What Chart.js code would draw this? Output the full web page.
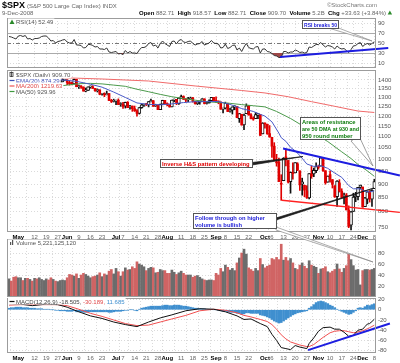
<!DOCTYPE html>
<html>
<head>
<meta charset="utf-8">
<title>$SPX daily</title>
<script src="https://cdn.jsdelivr.net/npm/chart.js@4.4.1/dist/chart.umd.min.js"></script>
<style>
  html, body { margin: 0; padding: 0; background: #fff; }
  #page { position: relative; width: 400px; height: 363px; overflow: hidden; background: #fff; }
  #page canvas { position: absolute; left: 0; top: 0; }
</style>
</head>
<body>
<div id="page">
  <canvas id="rsi" width="400" height="363"></canvas>
  <canvas id="vol" width="400" height="363"></canvas>
  <canvas id="macd" width="400" height="363"></canvas>
  <canvas id="price" width="400" height="363"></canvas>
</div>
<script>
(function() {
	"use strict";

	// trading days, index 0 = 25 Apr 2008 ... index 157 = 8 Dec 2008
	var tickIdx = [4, 11, 16, 21, 25, 30, 35, 40, 46, 49, 54, 59, 64, 68, 74, 79, 84, 89, 93, 98, 103, 110, 113, 118, 123, 128, 133, 138, 143, 148, 152, 157];
	var tickText = ["May", "12", "19", "27", "Jun", "9", "16", "23", "Jul", "7", "14", "21", "28", "Aug", "11", "18", "25", "Sep", "8", "15", "22", "Oct", "6", "13", "20", "27", "Nov", "10", "17", "24", "Dec", "8"];

	var open = [1388.8, 1397.8, 1396.4, 1390.9, 1385.6, 1409.3, 1413.9, 1407.5, 1418.3, 1392.6, 1397.7, 1388.3, 1403.6, 1403.0, 1408.7, 1423.6, 1425.4, 1426.6, 1413.4, 1390.7,
		1394.4, 1375.9, 1385.4, 1390.8, 1398.3, 1400.4, 1385.7, 1377.7, 1377.2, 1404.1, 1360.7, 1361.8, 1358.4, 1335.5, 1339.9, 1360.0, 1360.1, 1350.9, 1337.8, 1342.8,
		1317.9, 1318.0, 1314.3, 1322.0, 1283.2, 1278.4, 1280.0, 1284.9, 1261.5, 1262.9, 1252.3, 1273.7, 1244.7, 1253.4, 1239.5, 1228.3, 1214.9, 1245.4, 1260.3, 1260.7,
		1260.0, 1277.0, 1282.2, 1252.5, 1257.8, 1234.4, 1263.2, 1284.3, 1267.4, 1260.3, 1249.0, 1284.9, 1289.2, 1266.1, 1296.3, 1305.3, 1289.6, 1285.8, 1292.9, 1298.2,
		1278.6, 1266.7, 1274.5, 1277.7, 1292.2, 1266.8, 1271.5, 1281.7, 1300.7, 1282.8, 1277.6, 1275.0, 1236.8, 1242.3, 1267.8, 1224.5, 1232.0, 1249.1, 1250.9, 1188.3,
		1210.3, 1157.1, 1213.1, 1255.4, 1207.6, 1188.8, 1187.9, 1204.5, 1209.1, 1113.8, 1164.2, 1160.4, 1115.2, 1097.6, 1057.0, 988.9, 988.4, 902.3, 912.8, 1010.0,
		994.6, 909.5, 942.3, 943.5, 980.4, 951.7, 899.1, 895.1, 874.3, 848.9, 939.5, 939.4, 953.1, 968.7, 971.3, 1001.8, 952.4, 907.4, 936.8, 917.2,
		893.4, 853.1, 904.4, 873.2, 852.3, 859.0, 805.9, 755.8, 801.2, 853.4, 852.9, 886.9, 888.6, 817.9, 843.6, 869.8, 844.4, 882.7];
	var high = [1399.1, 1402.9, 1397.1, 1404.6, 1410.1, 1422.7, 1415.0, 1420.0, 1420.0, 1404.1, 1398.0, 1404.1, 1410.6, 1420.2, 1424.4, 1425.8, 1440.2, 1426.6, 1419.7, 1406.3,
		1394.4, 1387.4, 1397.0, 1406.3, 1404.5, 1400.4, 1393.9, 1388.2, 1405.8, 1404.1, 1370.6, 1366.8, 1360.0, 1353.0, 1360.0, 1364.7, 1366.6, 1350.9, 1347.7, 1342.8,
		1322.9, 1326.0, 1335.6, 1322.0, 1289.5, 1290.7, 1285.7, 1292.2, 1271.1, 1273.9, 1274.6, 1277.4, 1257.7, 1253.4, 1253.5, 1234.4, 1246.0, 1262.3, 1262.2, 1267.7,
		1277.4, 1291.2, 1283.0, 1263.2, 1260.1, 1264.2, 1284.9, 1284.3, 1270.5, 1260.3, 1284.9, 1291.7, 1289.2, 1297.9, 1313.2, 1309.0, 1294.0, 1300.1, 1302.0, 1300.2,
		1278.6, 1276.0, 1279.8, 1293.6, 1292.2, 1276.0, 1287.6, 1300.7, 1300.7, 1303.0, 1280.7, 1275.0, 1243.1, 1274.4, 1268.7, 1243.0, 1249.1, 1255.1, 1250.9, 1214.8,
		1210.3, 1211.1, 1265.1, 1255.4, 1214.0, 1197.4, 1220.0, 1215.8, 1209.1, 1168.0, 1167.0, 1160.4, 1153.8, 1097.6, 1072.9, 1021.1, 1005.3, 936.4, 1006.9, 1044.3,
		994.6, 947.7, 984.6, 985.4, 985.4, 951.7, 922.8, 896.1, 893.8, 940.5, 970.0, 963.2, 984.4, 975.5, 1007.5, 1001.8, 952.4, 931.5, 952.0, 917.2,
		893.4, 913.0, 916.9, 882.3, 865.9, 864.6, 820.5, 801.2, 865.6, 868.9, 887.7, 896.3, 888.6, 850.5, 873.1, 875.6, 879.4, 918.6];
	var low = [1379.9, 1394.4, 1386.7, 1384.0, 1383.1, 1406.3, 1404.4, 1397.0, 1391.4, 1389.6, 1384.2, 1386.2, 1396.7, 1403.0, 1406.9, 1414.4, 1421.6, 1409.4, 1388.8, 1388.6,
		1371.4, 1373.1, 1378.8, 1388.4, 1396.8, 1373.1, 1370.1, 1371.7, 1377.2, 1359.9, 1350.6, 1351.5, 1335.6, 1331.3, 1339.9, 1352.1, 1350.5, 1333.4, 1330.2, 1314.8,
		1312.9, 1304.4, 1314.3, 1281.7, 1272.0, 1274.9, 1260.7, 1261.5, 1252.0, 1240.7, 1242.8, 1244.6, 1236.8, 1225.4, 1225.0, 1200.4, 1211.4, 1241.4, 1251.8, 1255.7,
		1248.8, 1276.1, 1251.5, 1251.5, 1234.4, 1234.4, 1260.0, 1263.2, 1254.5, 1247.5, 1249.0, 1276.0, 1260.9, 1262.1, 1293.8, 1289.5, 1274.9, 1276.8, 1290.7, 1274.5,
		1263.2, 1261.2, 1263.1, 1277.7, 1264.5, 1263.9, 1268.6, 1281.7, 1282.8, 1272.2, 1265.6, 1236.8, 1217.3, 1237.8, 1224.5, 1221.4, 1211.5, 1233.8, 1192.7, 1169.3,
		1155.9, 1133.5, 1213.1, 1205.6, 1187.2, 1179.8, 1187.9, 1187.5, 1106.4, 1113.8, 1140.8, 1111.4, 1098.1, 1007.9, 996.2, 971.0, 909.2, 839.8, 912.8, 972.1,
		904.0, 865.8, 918.7, 943.5, 952.5, 875.8, 858.4, 852.9, 846.8, 845.3, 922.3, 928.5, 944.6, 958.6, 971.3, 949.9, 899.7, 906.9, 907.5, 884.9,
		850.5, 818.7, 869.9, 849.0, 826.8, 806.2, 747.8, 741.0, 801.2, 835.0, 841.4, 881.2, 815.7, 817.9, 827.6, 833.6, 818.4, 882.7];
	var close = [1397.8, 1396.4, 1390.9, 1385.6, 1409.3, 1413.9, 1407.5, 1418.3, 1392.6, 1397.7, 1388.3, 1403.6, 1403.0, 1408.7, 1423.6, 1425.4, 1426.6, 1413.4, 1390.7, 1394.4,
		1375.9, 1385.4, 1390.8, 1398.3, 1400.4, 1385.7, 1377.7, 1377.2, 1404.1, 1360.7, 1361.8, 1358.4, 1335.5, 1339.9, 1360.0, 1360.1, 1350.9, 1337.8, 1342.8, 1317.9,
		1318.0, 1314.3, 1322.0, 1283.2, 1278.4, 1280.0, 1284.9, 1261.5, 1262.9, 1252.3, 1273.7, 1244.7, 1253.4, 1239.5, 1228.3, 1214.9, 1245.4, 1260.3, 1260.7, 1260.0,
		1277.0, 1282.2, 1252.5, 1257.8, 1234.4, 1263.2, 1284.3, 1267.4, 1260.3, 1249.0, 1284.9, 1289.2, 1266.1, 1296.3, 1305.3, 1289.6, 1285.8, 1292.9, 1298.2, 1278.6,
		1266.7, 1274.5, 1277.7, 1292.2, 1266.8, 1271.5, 1281.7, 1300.7, 1282.8, 1277.6, 1275.0, 1236.8, 1242.3, 1267.8, 1224.5, 1232.0, 1249.1, 1251.7, 1192.7, 1213.6,
		1156.4, 1206.5, 1255.1, 1207.1, 1188.2, 1185.9, 1209.2, 1213.3, 1106.4, 1166.4, 1161.1, 1114.3, 1099.2, 1056.9, 996.2, 984.9, 909.9, 899.2, 1003.4, 998.0,
		907.8, 946.4, 940.6, 985.4, 955.1, 896.8, 908.1, 876.8, 848.9, 940.5, 930.1, 954.1, 968.8, 966.3, 1005.8, 952.8, 904.9, 931.0, 919.2, 899.0,
		852.3, 911.3, 873.3, 850.8, 859.1, 806.6, 752.4, 800.0, 851.8, 857.4, 887.7, 896.2, 816.2, 848.8, 870.7, 845.2, 876.1, 909.7];

	// volume in hundreds of millions of shares
	var volume = [33, 29, 36, 37, 35, 35, 30, 34, 34, 32, 29, 34, 33, 35, 32, 30, 33, 31, 35, 32, 29, 28, 30, 31, 30,
		35, 41, 40, 38, 42, 34, 40, 43, 41, 38, 35, 37, 38, 40, 44, 37, 42, 40, 47, 50, 42,
		52, 46, 38, 46, 53, 49, 50, 55, 52, 64, 60, 58, 55, 48, 52, 54, 53, 44, 45, 50, 48, 48,
		43, 43, 49, 45, 41, 44, 47, 43, 40, 40, 40, 36, 38, 39, 36, 33, 31, 30, 31, 31, 30,
		43, 40, 52, 46, 58, 54, 49, 52, 48, 62, 71, 80, 87, 78, 53, 50, 47, 52, 48, 70, 59,
		53, 56, 58, 70, 68, 72, 68, 96, 67, 72, 66, 70, 62, 52, 50, 58, 62, 56, 52, 66, 58, 56, 54,
		43, 51, 52, 55, 46, 44, 47, 50, 60, 51, 45, 52, 57, 78, 68, 57, 49, 50, 22,
		48, 50, 50, 49, 50, 52];

	var rsi = [63, 62, 60, 58, 64, 65, 63, 65, 58, 59, 56, 59, 59, 60, 63, 64, 64, 60, 54, 55, 50, 53, 54, 56, 57,
		52, 50, 50, 57, 46, 46, 45, 40, 41, 47, 47, 45, 42, 43, 38, 38, 37, 40, 32, 31, 32,
		33, 28, 29, 27, 35, 30, 33, 30, 30, 29, 36, 41, 41, 43, 49, 51, 44, 46, 40, 49, 54, 49,
		46, 43, 53, 54, 48, 55, 57, 52, 51, 53, 54, 49, 46, 48, 49, 53, 46, 48, 50, 55, 50,
		49, 48, 40, 41, 48, 39, 41, 45, 46, 36, 40, 33, 42, 49, 41, 39, 38, 42, 43, 30, 38,
		38, 33, 32, 29, 25, 24, 21, 21, 33, 33, 30, 32, 32, 36, 34, 31, 32, 30, 31, 42, 41, 44, 47,
		47, 51, 46, 42, 45, 44, 42, 38, 44, 40, 38, 39, 35, 31, 37, 44, 45, 49, 51,
		43, 47, 49, 46, 49, 52.49];

	var ema20X = [0, 5, 10, 15, 20, 25, 29, 35, 40, 45, 50, 55, 60, 65, 70, 75, 80, 85, 90, 95, 100, 105, 108, 110, 113, 116, 117, 119, 121, 123, 125, 128, 131, 134, 137, 140, 143, 146, 148, 151, 153, 155, 157];
	var ema20 = [1370, 1380, 1390, 1398, 1403, 1398, 1392, 1375, 1358, 1330, 1300, 1270, 1262, 1260, 1265, 1272, 1277, 1277, 1278, 1262, 1240, 1225, 1210, 1201, 1172, 1117, 1096, 1079, 1052, 1036, 1016, 980, 970, 973, 962, 943, 926, 894, 882, 882, 873, 870, 874.29];
	var ma50X = [0, 10, 19, 25, 30, 35, 40, 45, 50, 55, 60, 65, 70, 75, 80, 85, 90, 95, 100, 105, 110, 115, 121, 126, 132, 137, 143, 147, 150, 154, 157];
	var ma50 = [1333, 1342, 1360, 1370, 1378, 1380, 1377, 1370, 1363, 1346, 1332, 1317, 1304, 1294, 1285, 1277, 1272, 1268, 1261, 1255, 1249, 1225, 1189, 1154, 1111, 1078, 1032, 1003, 978, 952, 929.96];
	var ma200X = [0, 20, 40, 60, 80, 100, 110, 120, 130, 140, 150, 157];
	var ma200 = [1424, 1415, 1406, 1394, 1365, 1339, 1325, 1304, 1277, 1252, 1227, 1219.63];

	var macdX = [0, 5, 10, 16, 21, 25, 30, 35, 40, 45, 50, 55, 60, 65, 70, 76, 82, 88, 93, 98, 101, 104, 108, 111, 113, 115, 117, 119, 121, 123, 125, 128, 129, 131, 133, 135, 138, 140, 142, 144, 146, 148, 150, 152, 153, 154, 155, 156, 157];
	var macdLine = [12, 11, 8, 11, 10, 5, -4, -12, -17, -24, -29, -33, -24, -16, -10, -2, 2, 1, -4, -12, -19, -18, -27, -33, -48, -60, -74, -76, -78, -70, -73, -76, -66, -55, -42, -35, -34, -38, -38, -44, -52, -50, -40, -38, -33, -28, -27, -23, -18.505];
	var signalLine = [9, 10, 10, 10, 10, 8, 1, -7, -13, -20, -27, -31, -30, -24, -18, -11, -2, 1, -1, -6, -11, -14, -19, -23, -29, -38, -49, -57, -63, -66, -69, -72, -72, -68, -61, -54, -45, -42, -41, -41, -43, -45, -43.5, -41, -39.4, -37.1, -35.1, -32.7, -30.189];
	var macdHist = [3, 4, 4, 5, 5, 5, 4, 4, 4, 3, 3, 3, 2, 2, 2, 1,
		1, 1, 0, 0, -1, -1, -2, -2, -2, -3,
		-3, -3, -2, -4, -4, -4, -5, -5, -4, -4, -4, -4, -4, -4, -4, -4, -4, -5, -5, -4, -3, -3, -3, -2,
		-1, -1, 0, 0, -1, -2, 1,
		3, 4, 5, 6, 7, 7, 7, 7, 7, 8, 9, 9, 8, 8, 9, 9, 9, 8, 7, 7, 6, 5, 4, 3, 3, 2,
		2, 2, 1, 1, 1, 0, 0, -1,
		-2, -3, -3, -4, -5, -5, -5, -7, -7, -9, -8, -6, -6, -7, -7, -7, -7, -10,
		-11, -12, -14, -16, -19, -22, -24, -26, -25, -22, -19, -16, -13, -10,
		-8, -6, -5, -4, -3, -2,
		3, 6, 10, 14, 16, 17, 16, 14, 12, 9, 7,
		4, 1, -1, -3, -5, -7, -9, -8, -5,
		-2, 3, 4, 3, 6, 9, 8, 10, 11.685];

	// hand drawn trendlines (day index, value)
	var rsiTrendX = [116.5, 163], rsiTrendY = [22, 40];
	var resistX = [117.8, 168], resistY = [1047, 933];
	var supportX = [117.3, 168], supportY = [840, 798];
	var macdTrendX = [128.5, 163.7], macdTrendY = [-79, -27];

	var priceTicks = [750, 800, 850, 900, 950, 1000, 1050, 1100, 1150, 1200, 1250, 1300, 1350, 1400];
	var rsiTicks = [10, 30, 50, 70, 90];
	var volTicks = [20, 40, 60, 80];
	var macdTicks = [-80, -60, -40, -20, 0, 20];

	var FONT = '"Liberation Sans", Arial, sans-serif';
	var GRID = "#dadada";
	var RED = "#e00000";
	var X_MIN = -0.86, X_MAX = 157.73;

	function pts(xs, ys) {
		return xs.map(function(x, i) { return { x: x, y: ys[i] }; });
	}

	function isMonth(i) {
		return /^[A-Z]/.test(tickText[i] || "");
	}

	function xAxis(showLabels) {
		return {
			type: "linear", min: X_MIN, max: X_MAX, offset: false,
			afterBuildTicks: function(axis) {
				axis.ticks = tickIdx.map(function(v) { return { value: v }; });
			},
			afterFit: function(axis) { axis.height = showLabels ? 10 : 0; },
			grid: { color: GRID, drawTicks: false },
			border: { display: false, dash: [1, 2] },
			ticks: {
				display: showLabels, autoSkip: false, maxRotation: 0, padding: 2,
				font: function(c) { return { family: FONT, size: 6, weight: isMonth(c.index) ? "bold" : "normal" }; },
				color: function(c) { return isMonth(c.index) ? "#000" : "#666"; },
				callback: function(v, i) { return tickText[i]; }
			}
		};
	}

	function yAxis(type, min, max, ticks) {
		return {
			type: type, position: "right", min: min, max: max,
			afterBuildTicks: function(axis) {
				axis.ticks = ticks.map(function(v) { return { value: v }; });
			},
			afterFit: function(axis) { axis.width = 24; },
			grid: { color: GRID, drawTicks: false },
			border: { display: false, dash: [1, 2] },
			ticks: { autoSkip: false, padding: 2, color: "#555", font: { family: FONT, size: 6 },
				callback: function(v) { return String(v); } }
		};
	}

	function options(pad, showLabels, y) {
		return {
			responsive: false, animation: false, events: [],
			layout: { padding: pad },
			plugins: { legend: { display: false }, tooltip: { enabled: false } },
			scales: { x: xAxis(showLabels), y: y }
		};
	}

	function frame(ctx, a) {
		ctx.save();
		ctx.strokeStyle = "#9c9c9c";
		ctx.lineWidth = 1;
		ctx.strokeRect(Math.round(a.left) + 0.5, Math.round(a.top) + 0.5, Math.round(a.right - a.left) - 1, Math.round(a.bottom - a.top) - 1);
		ctx.restore();
	}

	function text(ctx, s, x, y, color, size, bold, align) {
		ctx.font = (bold ? "bold " : "") + size + "px " + FONT;
		ctx.fillStyle = color;
		ctx.textAlign = align || "left";
		ctx.textBaseline = "alphabetic";
		ctx.fillText(s, x, y);
		return ctx.measureText(s).width;
	}

	// one legend line inside a panel: white backing, small swatch, text parts
	function legendRow(ctx, y, swatch, parts) {
		ctx.save();
		ctx.font = "6px " + FONT;
		var w = 6;
		parts.forEach(function(p) { w += ctx.measureText(p[0]).width; });
		ctx.fillStyle = "#fff";
		ctx.fillRect(8, y - 5.5, w + 3, 6.5);
		if (swatch.type === "line") {
			ctx.strokeStyle = swatch.color;
			ctx.lineWidth = 1.2;
			ctx.beginPath(); ctx.moveTo(9.5, y - 2); ctx.lineTo(14.5, y - 2); ctx.stroke();
		} else if (swatch.type === "tri") {
			ctx.fillStyle = swatch.color;
			ctx.beginPath(); ctx.moveTo(9.5, y); ctx.lineTo(12, y - 4.5); ctx.lineTo(14.5, y); ctx.closePath(); ctx.fill();
		} else if (swatch.type === "bars") {
			ctx.fillStyle = "#555";
			ctx.fillRect(10, y - 3, 1.2, 3); ctx.fillRect(12, y - 5, 1.2, 5);
		} else if (swatch.type === "candle") {
			ctx.strokeStyle = "#333"; ctx.lineWidth = 0.8;
			ctx.strokeRect(10, y - 4.5, 3, 4);
			ctx.beginPath(); ctx.moveTo(11.5, y - 5.5); ctx.lineTo(11.5, y + 0.5); ctx.stroke();
		}
		var x = 16;
		parts.forEach(function(p) { x += text(ctx, p[0], x, y, p[1], 6, false); });
		ctx.restore();
	}

	// annotation box: fixed outer width, bold text
	function noteBox(ctx, x, y, w, lines, color) {
		ctx.save();
		var h = lines.length * 7 + 1;
		ctx.fillStyle = "#fff";
		ctx.fillRect(x, y, w, h);
		ctx.strokeStyle = "#555";
		ctx.lineWidth = 1;
		ctx.strokeRect(x + 0.5, y + 0.5, w, h);
		ctx.font = "bold 5.8px " + FONT;
		lines.forEach(function(l, k) {
			ctx.fillStyle = color;
			ctx.textAlign = "left";
			ctx.fillText(l, x + 2, y + 6.5 + k * 7, w - 3);
		});
		ctx.restore();
	}

	function wedge(ctx, ax, ay, bx, by, tx, ty, stroke, fill) {
		ctx.save();
		ctx.beginPath();
		ctx.moveTo(ax, ay); ctx.lineTo(tx, ty); ctx.lineTo(bx, by); ctx.closePath();
		ctx.fillStyle = fill; ctx.fill();
		ctx.strokeStyle = stroke; ctx.lineWidth = 0.7; ctx.stroke();
		ctx.restore();
	}

	function trend(xs, ys, color, width) {
		return { type: "line", data: pts(xs, ys), borderColor: color, borderWidth: width, pointRadius: 0, clip: false, order: 0 };
	}

	function maLine(xs, ys, color) {
		return { type: "line", data: pts(xs, ys), borderColor: color, borderWidth: 1, pointRadius: 0, tension: 0, order: 1 };
	}

	// ---- candles built from OHLC ----
	var wickData = [], wickColors = [], fullData = [], fullColors = [], hollowData = [], hollowColors = [];
	var volData = [], volColors = [];
	for (var i = 0; i < close.length; i++) {
		var prev = i > 0 ? close[i - 1] : open[0];
		var col = close[i] < prev ? RED : "#111";
		wickData.push({ x: i, y: [low[i], high[i]] });
		wickColors.push(col);
		var lo = Math.min(open[i], close[i]), hi = Math.max(open[i], close[i]);
		if (close[i] < open[i]) {
			fullData.push({ x: i, y: [lo, hi] }); fullColors.push(col);
		} else {
			hollowData.push({ x: i, y: [lo, hi] }); hollowColors.push(col);
		}
		volData.push({ x: i, y: volume[i] });
		volColors.push(close[i] < prev ? "#d06464" : "#6c6c6c");
	}

	// ---- RSI panel (also carries the page header) ----
	var rsiPlugin = {
		id: "rsiNotes",
		beforeDatasetsDraw: function(chart) {
			var ctx = chart.ctx, a = chart.chartArea, y = chart.scales.y;
			ctx.save();
			ctx.strokeStyle = "#aaa"; ctx.lineWidth = 1;
			[70, 30].forEach(function(v) {
				var p = Math.round(y.getPixelForValue(v)) + 0.5;
				ctx.beginPath(); ctx.moveTo(a.left, p); ctx.lineTo(a.right, p); ctx.stroke();
			});
			ctx.strokeStyle = "#777"; ctx.setLineDash([4, 2, 1, 2]);
			var m = Math.round(y.getPixelForValue(50)) + 0.5;
			ctx.beginPath(); ctx.moveTo(a.left, m); ctx.lineTo(a.right, m); ctx.stroke();
			ctx.restore();
		},
		afterDraw: function(chart) {
			var ctx = chart.ctx;
			frame(ctx, chart.chartArea);
			ctx.save();
			// header
			var w = text(ctx, "$SPX", 2, 8, "#000", 9, true);
			text(ctx, "(S&P 500 Large Cap Index) INDX", 4 + w, 7.5, "#666", 6, false);
			text(ctx, "9-Dec-2008", 2, 14.5, "#666", 6, false);
			text(ctx, "\u00a9StockCharts.com", 377, 7, "#777", 6, false, "right");
			var x = 139;
			[["Open", 1], [" 882.71  ", 0], ["High", 1], [" 918.57  ", 0], ["Low", 1], [" 882.71  ", 0], ["Close", 1], [" 909.70  ", 0],
				["Volume", 1], [" 5.2B  ", 0], ["Chg", 1], [" +33.63 (+3.84%) ", 0]].forEach(function(p) {
				x += text(ctx, p[0], x, 14.5, p[1] ? "#000" : "#666", 6, !!p[1]);
			});
			ctx.fillStyle = "#2a8a2a";
			ctx.beginPath(); ctx.moveTo(x, 14.5); ctx.lineTo(x + 2.2, 10.5); ctx.lineTo(x + 4.4, 14.5); ctx.closePath(); ctx.fill();
			ctx.restore();
			legendRow(ctx, 24, { type: "tri", color: "#2a8a2a" }, [["RSI(14) 52.49", "#555"]]);
			wedge(ctx, 330, 28.5, 336, 27, 372, 41, "#888", "#fff");
			noteBox(ctx, 302, 20, 36, ["RSI breaks 50"], "#1a1ad8");
		}
	};

	new Chart(document.getElementById("rsi"), {
		data: {
			datasets: [
				trend(rsiTrendX, rsiTrendY, "#1d1de0", 2),
				{ type: "line", data: rsi.map(function(v, i) { return { x: i, y: v }; }), borderColor: "#333", borderWidth: 1,
					pointRadius: 0, order: 1, fill: { target: { value: 30 }, above: "rgba(0,0,0,0)", below: "#a04848" } }
			]
		},
		options: options({ left: 7, right: 0, top: 18, bottom: 295 }, false, yAxis("linear", 0, 100, rsiTicks)),
		plugins: [rsiPlugin]
	});

	// ---- price panel ----
	var pricePlugin = {
		id: "priceNotes",
		afterDraw: function(chart) {
			var ctx = chart.ctx;
			frame(ctx, chart.chartArea);
			legendRow(ctx, 77, { type: "candle" }, [["$SPX (Daily) 909.70", "#555"]]);
			legendRow(ctx, 82.5, { type: "line", color: "#3d4fb8" }, [["EMA(20) 874.29", "#3d4fb8"]]);
			legendRow(ctx, 88, { type: "line", color: "#ee5555" }, [["MA(200) 1219.63", "#e04848"]]);
			legendRow(ctx, 93.5, { type: "line", color: "#3f9a3f" }, [["MA(50) 929.96", "#555"]]);

			wedge(ctx, 351, 141, 359, 136, 373, 166, "#777", "#fff");
			noteBox(ctx, 300, 117, 60, ["Areas of resistance", "are 50 DMA at 930 and", "950 round number"], "#0a7a0a");

			wedge(ctx, 252, 162.5, 252, 165, 303, 156.5, "#111", "#222");
			noteBox(ctx, 160, 159, 92, ["Inverse H&S pattern developing"], "#e00000");

			wedge(ctx, 276, 218, 276, 220, 374, 188, "#111", "#222");
			wedge(ctx, 276, 227, 276, 230, 373, 262, "#888", "#fff");
			noteBox(ctx, 193, 213, 83, ["Follow through on higher", "volume is bullish"], "#1a1ad8");
		}
	};

	new Chart(document.getElementById("price"), {
		data: {
			datasets: [
				trend(resistX, resistY, "#1d1de0", 2),
				trend(supportX, supportY, "#ff2020", 1.4),
				maLine(ema20X, ema20, "#4a5ac8"),
				maLine(ma50X, ma50, "#4c9a4c"),
				maLine(ma200X, ma200, "#f06a6a"),
				{ type: "bar", data: fullData, backgroundColor: fullColors, borderColor: fullColors, borderWidth: 0,
					barThickness: 2, grouped: false, minBarLength: 1, order: 2 },
				{ type: "bar", data: hollowData, backgroundColor: "#fff", borderColor: hollowColors, borderWidth: 1,
					borderSkipped: false, barThickness: 3, grouped: false, minBarLength: 1, order: 2 },
				{ type: "bar", data: wickData, backgroundColor: wickColors, borderWidth: 0, barThickness: 1, grouped: false, order: 3 }
			]
		},
		options: options({ left: 7, right: 0, top: 70, bottom: 121 }, true, yAxis("logarithmic", 734.2, 1460.7, priceTicks)),
		plugins: [pricePlugin]
	});

	// ---- volume panel ----
	new Chart(document.getElementById("vol"), {
		data: {
			datasets: [
				{ type: "bar", data: volData, backgroundColor: volColors, borderWidth: 0, barThickness: 2, grouped: false }
			]
		},
		options: options({ left: 7, right: 0, top: 239, bottom: 66 }, false, yAxis("linear", 0, 105.5, volTicks)),
		plugins: [{
			id: "volNotes",
			afterDraw: function(chart) {
				frame(chart.ctx, chart.chartArea);
				legendRow(chart.ctx, 245, { type: "bars" }, [["Volume 5,221,125,120", "#555"]]);
			}
		}]
	});

	// ---- MACD panel ----
	new Chart(document.getElementById("macd"), {
		data: {
			datasets: [
				trend(macdTrendX, macdTrendY, "#1d1de0", 2),
				maLine(macdX, macdLine, "#111"),
				maLine(macdX, signalLine, "#f05050"),
				{ type: "bar", data: macdHist.map(function(v, i) { return { x: i, y: v }; }), backgroundColor: "#3f8fcf",
					borderWidth: 0, barThickness: 2, grouped: false, order: 3 }
			]
		},
		options: options({ left: 7, right: 0, top: 298, bottom: 0 }, true, yAxis("linear", -84.6, 23, macdTicks)),
		plugins: [{
			id: "macdNotes",
			afterDraw: function(chart) {
				frame(chart.ctx, chart.chartArea);
				legendRow(chart.ctx, 303.5, { type: "line", color: "#111" },
					[["MACD(12,26,9) -18.505, ", "#444"], ["-30.189, ", "#e04848"], ["11.685", "#3f8fcf"]]);
			}
		}]
	});
})();
</script>
</body>
</html>
